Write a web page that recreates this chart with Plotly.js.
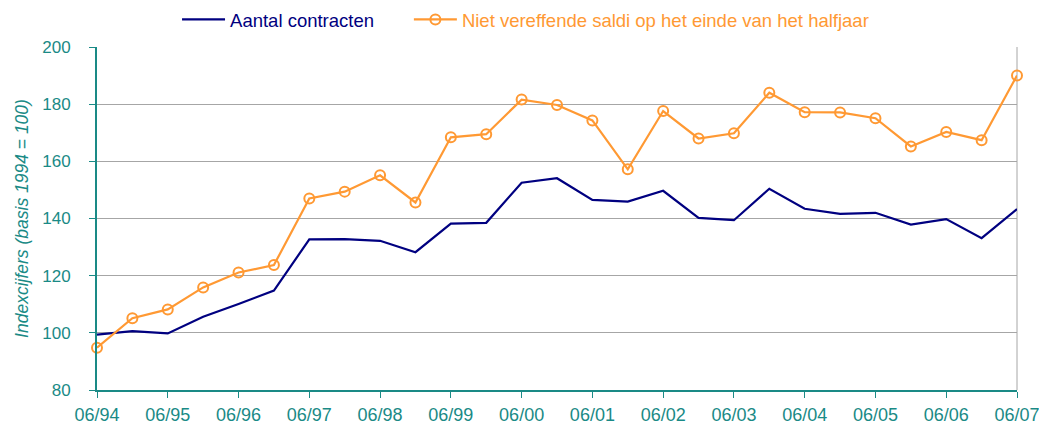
<!DOCTYPE html>
<html>
<head>
<meta charset="utf-8">
<script src="https://cdn.plot.ly/plotly-3.0.1.min.js"></script>
<style>html,body{margin:0;padding:0;background:#fff;}#chart{width:1039px;height:425px;}</style>
</head>
<body>
<div id="chart"></div>
<script>
const periods = ["06/94","12/94","06/95","12/95","06/96","12/96","06/97","12/97","06/98","12/98","06/99","12/99","06/00","12/00","06/01","12/01","06/02","12/02","06/03","12/03","06/04","12/04","06/05","12/05","06/06","12/06","06/07"];
const tickLabels = ["06/94","06/95","06/96","06/97","06/98","06/99","06/00","06/01","06/02","06/03","06/04","06/05","06/06","06/07"];
const aantalContracten = [99.4,100.6,99.8,105.6,110.1,114.8,132.7,132.8,132.2,128.2,138.2,138.5,152.5,154.1,146.5,145.9,149.7,140.2,139.4,150.4,143.4,141.6,142.0,137.9,139.8,133.1,143.3];
const nietVereffend = [94.8,105.1,108.2,115.9,121.1,123.7,147.0,149.4,155.1,145.6,168.4,169.5,181.6,179.7,174.3,157.2,177.6,168.0,169.8,184.0,177.2,177.1,175.1,165.2,170.3,167.4,190.0];
const seriesNames = ["Aantal contracten","Niet vereffende saldi op het einde van het halfjaar"];

const teal = "#1a8a86";
const font = "Liberation Sans, Arial, sans-serif";

const traces = [
  {x: periods, y: aantalContracten, name: seriesNames[0], type: "scatter", mode: "lines",
   line: {color: "#000080", width: 2.2}, cliponaxis: false, legend: "legend"},
  {x: periods, y: nietVereffend, name: seriesNames[1], type: "scatter", mode: "lines+markers",
   line: {color: "#ff9933", width: 2.2},
   marker: {symbol: "circle-open", size: 10, color: "#ff9933", line: {width: 2, color: "#ff9933"}},
   cliponaxis: false, legend: "legend2"}
];

const legendBase = {orientation: "h", y: 1.079, xanchor: "left", yanchor: "middle",
  bgcolor: "rgba(0,0,0,0)", itemwidth: 43};

const layout = {
  width: 1039, height: 425,
  margin: {l: 97, r: 22, t: 47, b: 35, autoexpand: false},
  paper_bgcolor: "#fff", plot_bgcolor: "#fff",
  font: {family: font, size: 17, color: teal},
  showlegend: true,
  legend: Object.assign({}, legendBase, {x: 0.087, font: {family: font, size: 18.5, color: "#000080"}}),
  legend2: Object.assign({}, legendBase, {x: 0.339, font: {family: font, size: 18.5, color: "#ff9933"}}),
  xaxis: {type: "category", range: [0, 26], tickmode: "array", tickvals: tickLabels, ticktext: tickLabels,
          showgrid: false, showline: true, linecolor: teal, linewidth: 2, automargin: false,
          ticks: "outside", ticklen: 6, tickcolor: teal, tickwidth: 1, ticklabelstandoff: 1,
          tickfont: {family: font, size: 18, color: teal}, zeroline: false, fixedrange: true},
  yaxis: {range: [80, 200], dtick: 20, tick0: 80, showgrid: true, gridcolor: "#a6a6a6", gridwidth: 1,
          showline: true, linecolor: teal, linewidth: 2, automargin: false,
          ticks: "outside", ticklen: 6, tickcolor: teal, tickwidth: 1, ticklabelstandoff: 15,
          tickfont: {family: font, size: 17, color: teal}, zeroline: false,
          title: {text: "Indexcijfers (basis 1994 = 100)", font: {family: font, size: 17.5, color: teal}, standoff: 0}},
  shapes: [
    {type: "line", xref: "paper", yref: "paper", x0: 1, x1: 1, y0: 0, y1: 1, line: {color: "#a6a6a6", width: 1}, layer: "below"}
  ]
};

Plotly.newPlot("chart", traces, layout, {displayModeBar: false, staticPlot: true}).then(() => {
  document.querySelectorAll(".g-ytitle").forEach(g => g.setAttribute("transform", "translate(-9,0)"));
  document.querySelectorAll(".g-ytitle text").forEach(t => { t.setAttribute("font-style", "italic"); t.style.fontStyle = "italic"; });
});
</script>
</body>
</html>
